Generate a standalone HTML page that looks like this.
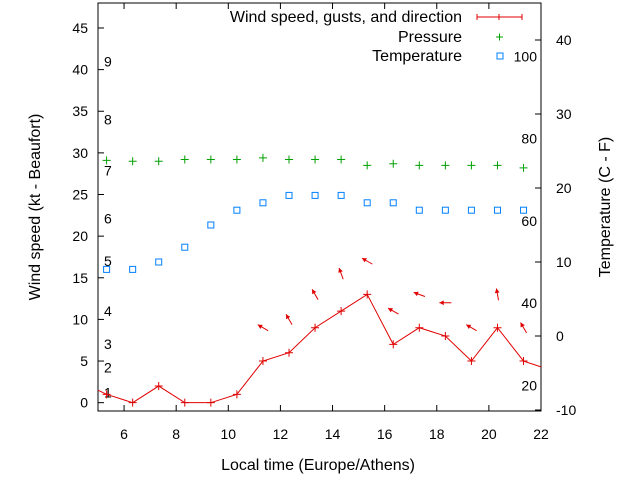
<!DOCTYPE html>
<html><head><meta charset="utf-8"><style>
html,body{margin:0;padding:0;background:#fff;}
svg{display:block;font-family:"Liberation Sans",sans-serif;}
</style></head><body>
<svg id="chart" width="640" height="480" viewBox="0 0 640 480" xmlns="http://www.w3.org/2000/svg"></svg>
<script>
const hours = [5.33,6.33,7.33,8.33,9.33,10.33,11.33,12.33,13.33,14.33,15.33,16.33,17.33,18.33,19.33,20.33,21.33];
const windSpeed = [1,0,2,0,0,1,5,6,9,11,13,7,9,8,5,9,5];
const gusts = [null,null,null,null,null,null,9,10,13,15.5,17,11,13,12,9,13,9];
const windDir = [null,null,null,null,null,null,300,330,330,340,300,300,290,270,300,350,330];
const pressure = [29.1,29.0,29.0,29.2,29.2,29.2,29.4,29.2,29.2,29.2,28.5,28.7,28.5,28.5,28.5,28.5,28.2];
const temperature = [9,9,10,12,15,17,18,19,19,19,18,18,17,17,17,17,17];
const xTicks = [6,8,10,12,14,16,18,20,22];
const yTicks = [0,5,10,15,20,25,30,35,40,45];
const tTicks = [-10,0,10,20,30,40];
const fTicks = [20,40,60,80,100];
const beaufort = [[1,1.2],[2,4.2],[3,7.05],[4,11],[5,17],[6,22.1],[7,27.9],[8,34],[9,41]];

const L=98,R=541,T=3,B=411;
const X=h=>L+(h-5)*(R-L)/17;
const Y=v=>B-(v+1)*(B-T)/49;
const TY=c=>410-(c+10)*7.4;
const svg=document.getElementById('chart');
const NS='http://www.w3.org/2000/svg';
function mk(tag,attrs,name,parent){const e=document.createElementNS(NS,tag);for(const k in attrs)e.setAttribute(k,attrs[k]);


(parent||svg).appendChild(e);return e;}
function txt(s,x,y,anchor,name,extra){const e=mk('text',Object.assign({x:x,y:y,'font-size':14,'text-anchor':anchor,fill:'#000'},extra||{}),name);e.textContent=s;return e;}

mk('rect',{x:L,y:T,width:R-L,height:B-T,fill:'none',stroke:'#000','stroke-width':1},'plot-border');
xTicks.forEach(h=>{const x=X(h);
 mk('line',{x1:x,y1:B,x2:x,y2:B-6,stroke:'#000'},'x-tick');
 mk('line',{x1:x,y1:T,x2:x,y2:T+6,stroke:'#000'},'x-tick-top');
 txt(String(h),x,439,'middle','x-tick-label');});
yTicks.forEach(v=>{const y=Y(v);
 mk('line',{x1:L,y1:y,x2:L+6,y2:y,stroke:'#000'},'y-tick');
 txt(String(v),88,y+5,'end','y-tick-label');});
tTicks.forEach(c=>{const y=TY(c);
 mk('line',{x1:R,y1:y,x2:R-6,y2:y,stroke:'#000'},'temp-tick');
 txt(String(c),556,y+5,'start','temp-tick-label');});
fTicks.forEach(f=>{const c=(f-32)*5/9;txt(String(f),537,TY(c)+5,'end','fahrenheit-label');});
beaufort.forEach(b=>txt(String(b[0]),104,Y(b[1])+5,'start','beaufort-label'));

txt('Local time (Europe/Athens)',318,470,'middle','x-axis-title',{'font-size':16});
txt('Wind speed (kt - Beaufort)',40,207,'middle','y-axis-title',{'font-size':16,transform:'rotate(-90 40 207)'});
txt('Temperature (C - F)',610,207,'middle','y2-axis-title',{'font-size':16,transform:'rotate(-90 610 207)'});

let pts=[[L,Y(1.5)]].concat(hours.map((h,i)=>[X(h),Y(windSpeed[i])])).concat([[R,Y(4.3)]]);
mk('polyline',{points:pts.map(p=>p.join(',')).join(' '),fill:'none',stroke:'#e00000','stroke-width':1},'wind-speed-line');
hours.forEach((h,i)=>{const x=X(h),y=Y(windSpeed[i]);
 mk('path',{d:`M${x-4},${y}h8M${x},${y-4}v8`,stroke:'#e00000','stroke-width':1},'wind-point');});
hours.forEach((h,i)=>{if(gusts[i]==null)return;const cx=X(h),cy=Y(gusts[i]);
 const a=windDir[i]*Math.PI/180;const dx=Math.sin(a)*6,dy=-Math.cos(a)*6;
 const hx=cx+dx,hy=cy+dy,tx=cx-dx,ty=cy-dy;
 const ang=Math.atan2(hy-ty,hx-tx);
 const p1=[hx-5*Math.cos(ang-0.5),hy-5*Math.sin(ang-0.5)],p2=[hx-5*Math.cos(ang+0.5),hy-5*Math.sin(ang+0.5)];
 mk('line',{x1:tx,y1:ty,x2:hx,y2:hy,stroke:'#e00000'},'wind-direction-arrow');
 mk('polygon',{points:`${hx},${hy} ${p1.join(',')} ${p2.join(',')}`,fill:'#e00000'},'wind-arrow-head');});
hours.forEach((h,i)=>{const x=X(h),y=Y(pressure[i]);
 mk('path',{d:`M${x-4},${y}h8M${x},${y-4}v8`,stroke:'#00a000','stroke-width':1},'pressure-point');});
hours.forEach((h,i)=>{const x=X(h),y=TY(temperature[i]);
 mk('rect',{x:x-3,y:y-3,width:6,height:6,fill:'none',stroke:'#0080ff','stroke-width':1},'temperature-point');});
txt('Wind speed, gusts, and direction',462,22,'end','legend-wind-label',{'font-size':16});
mk('path',{d:'M477,17H522M477,14v6M522,14v6M499,14v6',stroke:'#e00000'},'legend-wind-sample');
txt('Pressure',462,42,'end','legend-pressure-label',{'font-size':16});
mk('path',{d:'M496,37h7M499.5,33.5v7',stroke:'#00a000'},'legend-pressure-sample');
txt('Temperature',462,61,'end','legend-temperature-label',{'font-size':16});
mk('rect',{x:497,y:53,width:6,height:6,fill:'none',stroke:'#0080ff'},'legend-temperature-sample');
</script>
</body></html>
